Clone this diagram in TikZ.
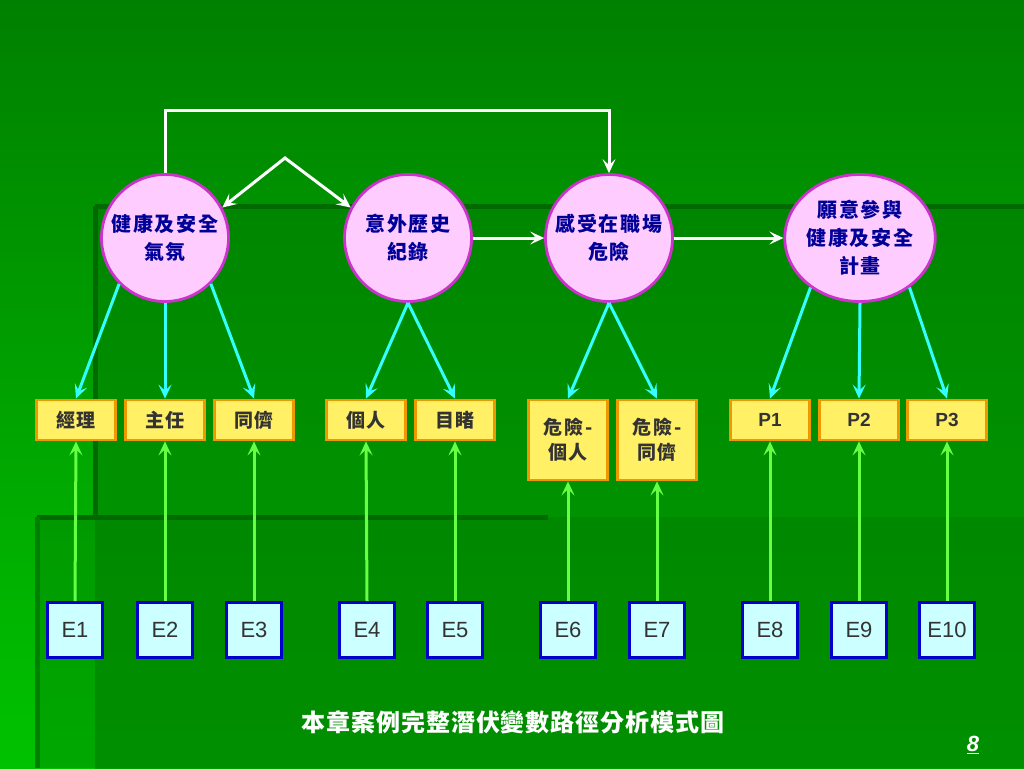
\documentclass[tikz,border=0pt]{standalone}
\usepackage{fontspec}
\setmainfont{Liberation Sans}
\newfontfamily\cjk{Noto Sans CJK TC}[LetterSpace=8]
\newfontfamily\cjkbox{Noto Sans CJK TC}[LetterSpace=9]
\newfontfamily\cjkcap{Noto Sans CJK TC}[LetterSpace=4]
\usetikzlibrary{arrows.meta,shapes.geometric}
\definecolor{bgtop}{HTML}{008000}
\definecolor{bgbot}{HTML}{00C200}
\definecolor{panel}{HTML}{008600}
\definecolor{panelbot}{HTML}{009C00}
\definecolor{darkline}{HTML}{006A00}
\definecolor{circfill}{HTML}{FFCCFF}
\definecolor{circdraw}{HTML}{CC33CC}
\definecolor{circtext}{HTML}{000099}
\definecolor{boxfill}{HTML}{FFF066}
\definecolor{boxdraw}{HTML}{EE9900}
\definecolor{boxtext}{HTML}{333333}
\definecolor{efill}{HTML}{CCFFFF}
\definecolor{edraw}{HTML}{0000CC}
\definecolor{cyanarrow}{HTML}{33FFFF}
\definecolor{greenarrow}{HTML}{66FF44}
\tikzset{
  tip/.tip={Stealth[length=14pt,width=13pt,inset=6pt]},
  latent/.style={circle, draw=circdraw, line width=2.8pt, fill=circfill,
    minimum size=127pt, inner sep=0pt, text=circtext, align=center,
    font=\cjk\bfseries\fontsize{20}{28}\selectfont},
  latentwide/.style={latent, ellipse, minimum width=143pt, minimum height=127pt},
  obs/.style={rectangle, draw=boxdraw, line width=2.8pt, fill=boxfill,
    minimum width=79pt, minimum height=40pt, inner sep=0pt, text=boxtext,
    align=center, font=\cjkbox\bfseries\fontsize{19}{25}\selectfont},
  obstall/.style={obs, minimum height=80pt},
  obsp/.style={obs, font=\bfseries\fontsize{19}{22}\selectfont},
  err/.style={rectangle, draw=edraw, line width=2.8pt, fill=efill,
    minimum width=55pt, minimum height=55pt, inner sep=0pt, text=boxtext,
    font=\fontsize{22}{26}\selectfont},
  warr/.style={draw=white, line width=3pt, -tip},
  warrboth/.style={draw=white, line width=3pt, tip-tip},
  carr/.style={draw=cyanarrow, line width=3pt, -tip},
  garr/.style={draw=greenarrow, line width=3pt, -tip},
}
\begin{document}
\begin{tikzpicture}[x=1pt,y=-1pt]
\useasboundingbox (0,0) rectangle (1024,768);
% background
\shade[top color=bgtop, bottom color=bgbot] (0,0) rectangle (1024,768);
\shade[top color=panel, bottom color=panelbot] (95,206) rectangle (1024,768);
\fill[panel!90!black, opacity=0.35] (37,517) rectangle (1024,768);
\draw[darkline, line width=5pt] (95,206) -- (1024,206);
\draw[darkline, line width=5pt] (95,206) -- (95,520);
\draw[darkline, line width=5pt] (37,517) -- (548,517);
\draw[darkline!85!green, line width=5pt] (37,517) -- (37,768);

% latent variables
\node[latent] (C1) at (165,238) {健康及安全\\氣氛};
\node[latent] (C2) at (408,238) {意外歷史\\紀錄};
\node[latent] (C3) at (609,238) {感受在職場\\危險};
\node[latentwide] (C4) at (860,238) {願意參與\\健康及安全\\計畫};

% observed
\node[obs] (b1) at (76,420) {經理};
\node[obs] (b2) at (165,420) {主任};
\node[obs] (b3) at (254,420) {同儕};
\node[obs] (b4) at (366,420) {個人};
\node[obs] (b5) at (455,420) {目睹};
\node[obstall] (b6) at (568,440) {危險-\\個人};
\node[obstall] (b7) at (657,440) {危險-\\同儕};
\node[obsp] (b8) at (770,420) {P1};
\node[obsp] (b9) at (859,420) {P2};
\node[obsp] (b10) at (947,420) {P3};

% errors
\node[err] (E1) at (75,630) {E1};
\node[err] (E2) at (165,630) {E2};
\node[err] (E3) at (254,630) {E3};
\node[err] (E4) at (367,630) {E4};
\node[err] (E5) at (455,630) {E5};
\node[err] (E6) at (568,630) {E6};
\node[err] (E7) at (657,630) {E7};
\node[err] (E8) at (770,630) {E8};
\node[err] (E9) at (859,630) {E9};
\node[err] (E10) at (947,630) {E10};

% structural paths
\coordinate (topL) at (165,110);
\coordinate (topR) at (609,110);
\coordinate (apex) at (285,158);
\draw[warr] (C1.north) -- (topL) -- (topR) -- (C3.north);
\draw[warrboth] (C1.28) -- (apex) -- (C2.152);
\draw[warr] (C2.east) -- (C3.west);
\draw[warr] (C3.east) -- (C4.west);

% loadings
\draw[carr] (C1.225) -- (b1.north);
\draw[carr] (C1.south) -- (b2.north);
\draw[carr] (C1.315) -- (b3.north);
\draw[carr] (C2.south) -- (b4.north);
\draw[carr] (C2.south) -- (b5.north);
\draw[carr] (C3.south) -- (b6.north);
\draw[carr] (C3.south) -- (b7.north);
\draw[carr] (C4.225) -- (b8.north);
\draw[carr] (C4.south) -- (b9.north);
\draw[carr] (C4.315) -- (b10.north);

% errors
\foreach \i in {1,...,10} {
  \draw[garr] (E\i.north) -- (b\i.south);
}

% caption
\node[text=white, font=\cjkcap\bfseries\fontsize{24}{28}\selectfont] (cap) at (513,722) {本章案例完整潛伏變數路徑分析模式圖};
\node[text=white, font=\bfseries\itshape\fontsize{22}{26}\selectfont] (pg) at (973,745) {\underline{8}};
\end{tikzpicture}
\end{document}
